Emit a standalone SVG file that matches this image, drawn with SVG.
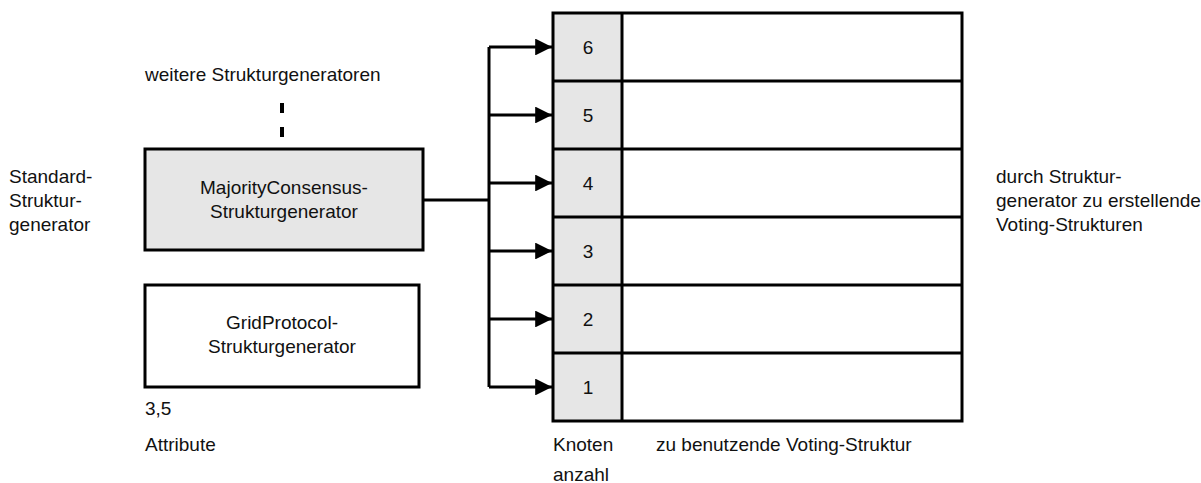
<svg xmlns="http://www.w3.org/2000/svg" width="1201" height="483" viewBox="0 0 1201 483">
  <style>
    text { font-family: "Liberation Sans", Arial, sans-serif; font-size: 19px; fill: #111; }
    .mid { text-anchor: middle; }
    .box { stroke: #000; stroke-width: 3; }
    .line { stroke: #000; stroke-width: 3; fill: none; }
  </style>
  <defs>
    <marker id="arrow" markerWidth="5.6" markerHeight="5.6" refX="5.6" refY="2.8" orient="auto" markerUnits="strokeWidth">
      <path d="M0,0 L5.6,2.8 L0,5.6 Z" fill="#000"/>
    </marker>
  </defs>
  <rect width="1201" height="483" fill="#fff"/>

  <!-- side labels -->
  <text x="9" y="183">Standard-</text>
  <text x="9" y="207">Struktur-</text>
  <text x="9" y="231">generator</text>
  <text x="996" y="183">durch Struktur-</text>
  <text x="996" y="207">generator zu erstellende</text>
  <text x="996" y="231">Voting-Strukturen</text>

  <text x="145" y="81">weitere Strukturgeneratoren</text>
  <g id="ellipsis">
    <rect x="280" y="103" width="4" height="10" fill="#000"/>
    <rect x="280" y="127" width="4" height="10" fill="#000"/>
  </g>

  <g id="majority">
    <rect class="box" x="145" y="149" width="278" height="101" fill="#e6e6e6"/>
    <text class="mid" x="284" y="194">MajorityConsensus-</text>
    <text class="mid" x="284" y="218">Strukturgenerator</text>
  </g>

  <g id="gridprotocol">
    <rect class="box" x="145" y="285" width="274" height="102" fill="#fff"/>
    <text class="mid" x="282" y="329">GridProtocol-</text>
    <text class="mid" x="282" y="353">Strukturgenerator</text>
  </g>

  <text x="145" y="415">3,5</text>
  <text x="145" y="451">Attribute</text>

  <g id="table">
    <rect x="553" y="13" width="69" height="408" fill="#e6e6e6"/>
    <rect class="box" x="553" y="13" width="409" height="408" fill="none"/>
    <line class="line" x1="622" y1="13" x2="622" y2="421"/>
    <line class="line" x1="553" y1="81" x2="962" y2="81"/>
    <line class="line" x1="553" y1="149" x2="962" y2="149"/>
    <line class="line" x1="553" y1="217" x2="962" y2="217"/>
    <line class="line" x1="553" y1="285" x2="962" y2="285"/>
    <line class="line" x1="553" y1="353" x2="962" y2="353"/>
    <text class="mid" x="588" y="54">6</text>
    <text class="mid" x="588" y="122">5</text>
    <text class="mid" x="588" y="190">4</text>
    <text class="mid" x="588" y="258">3</text>
    <text class="mid" x="588" y="326">2</text>
    <text class="mid" x="588" y="394">1</text>
  </g>

  <text x="553" y="451">Knoten</text>
  <text x="553" y="481">anzahl</text>
  <text x="656" y="451">zu benutzende Voting-Struktur</text>

  <g id="connectors">
    <line class="line" x1="423" y1="200" x2="489" y2="200"/>
    <line class="line" x1="489" y1="47" x2="489" y2="387"/>
    <line class="line" x1="489" y1="47" x2="552" y2="47" marker-end="url(#arrow)"/>
    <line class="line" x1="489" y1="115" x2="552" y2="115" marker-end="url(#arrow)"/>
    <line class="line" x1="489" y1="183" x2="552" y2="183" marker-end="url(#arrow)"/>
    <line class="line" x1="489" y1="251" x2="552" y2="251" marker-end="url(#arrow)"/>
    <line class="line" x1="489" y1="319" x2="552" y2="319" marker-end="url(#arrow)"/>
    <line class="line" x1="489" y1="387" x2="552" y2="387" marker-end="url(#arrow)"/>
  </g>
</svg>
